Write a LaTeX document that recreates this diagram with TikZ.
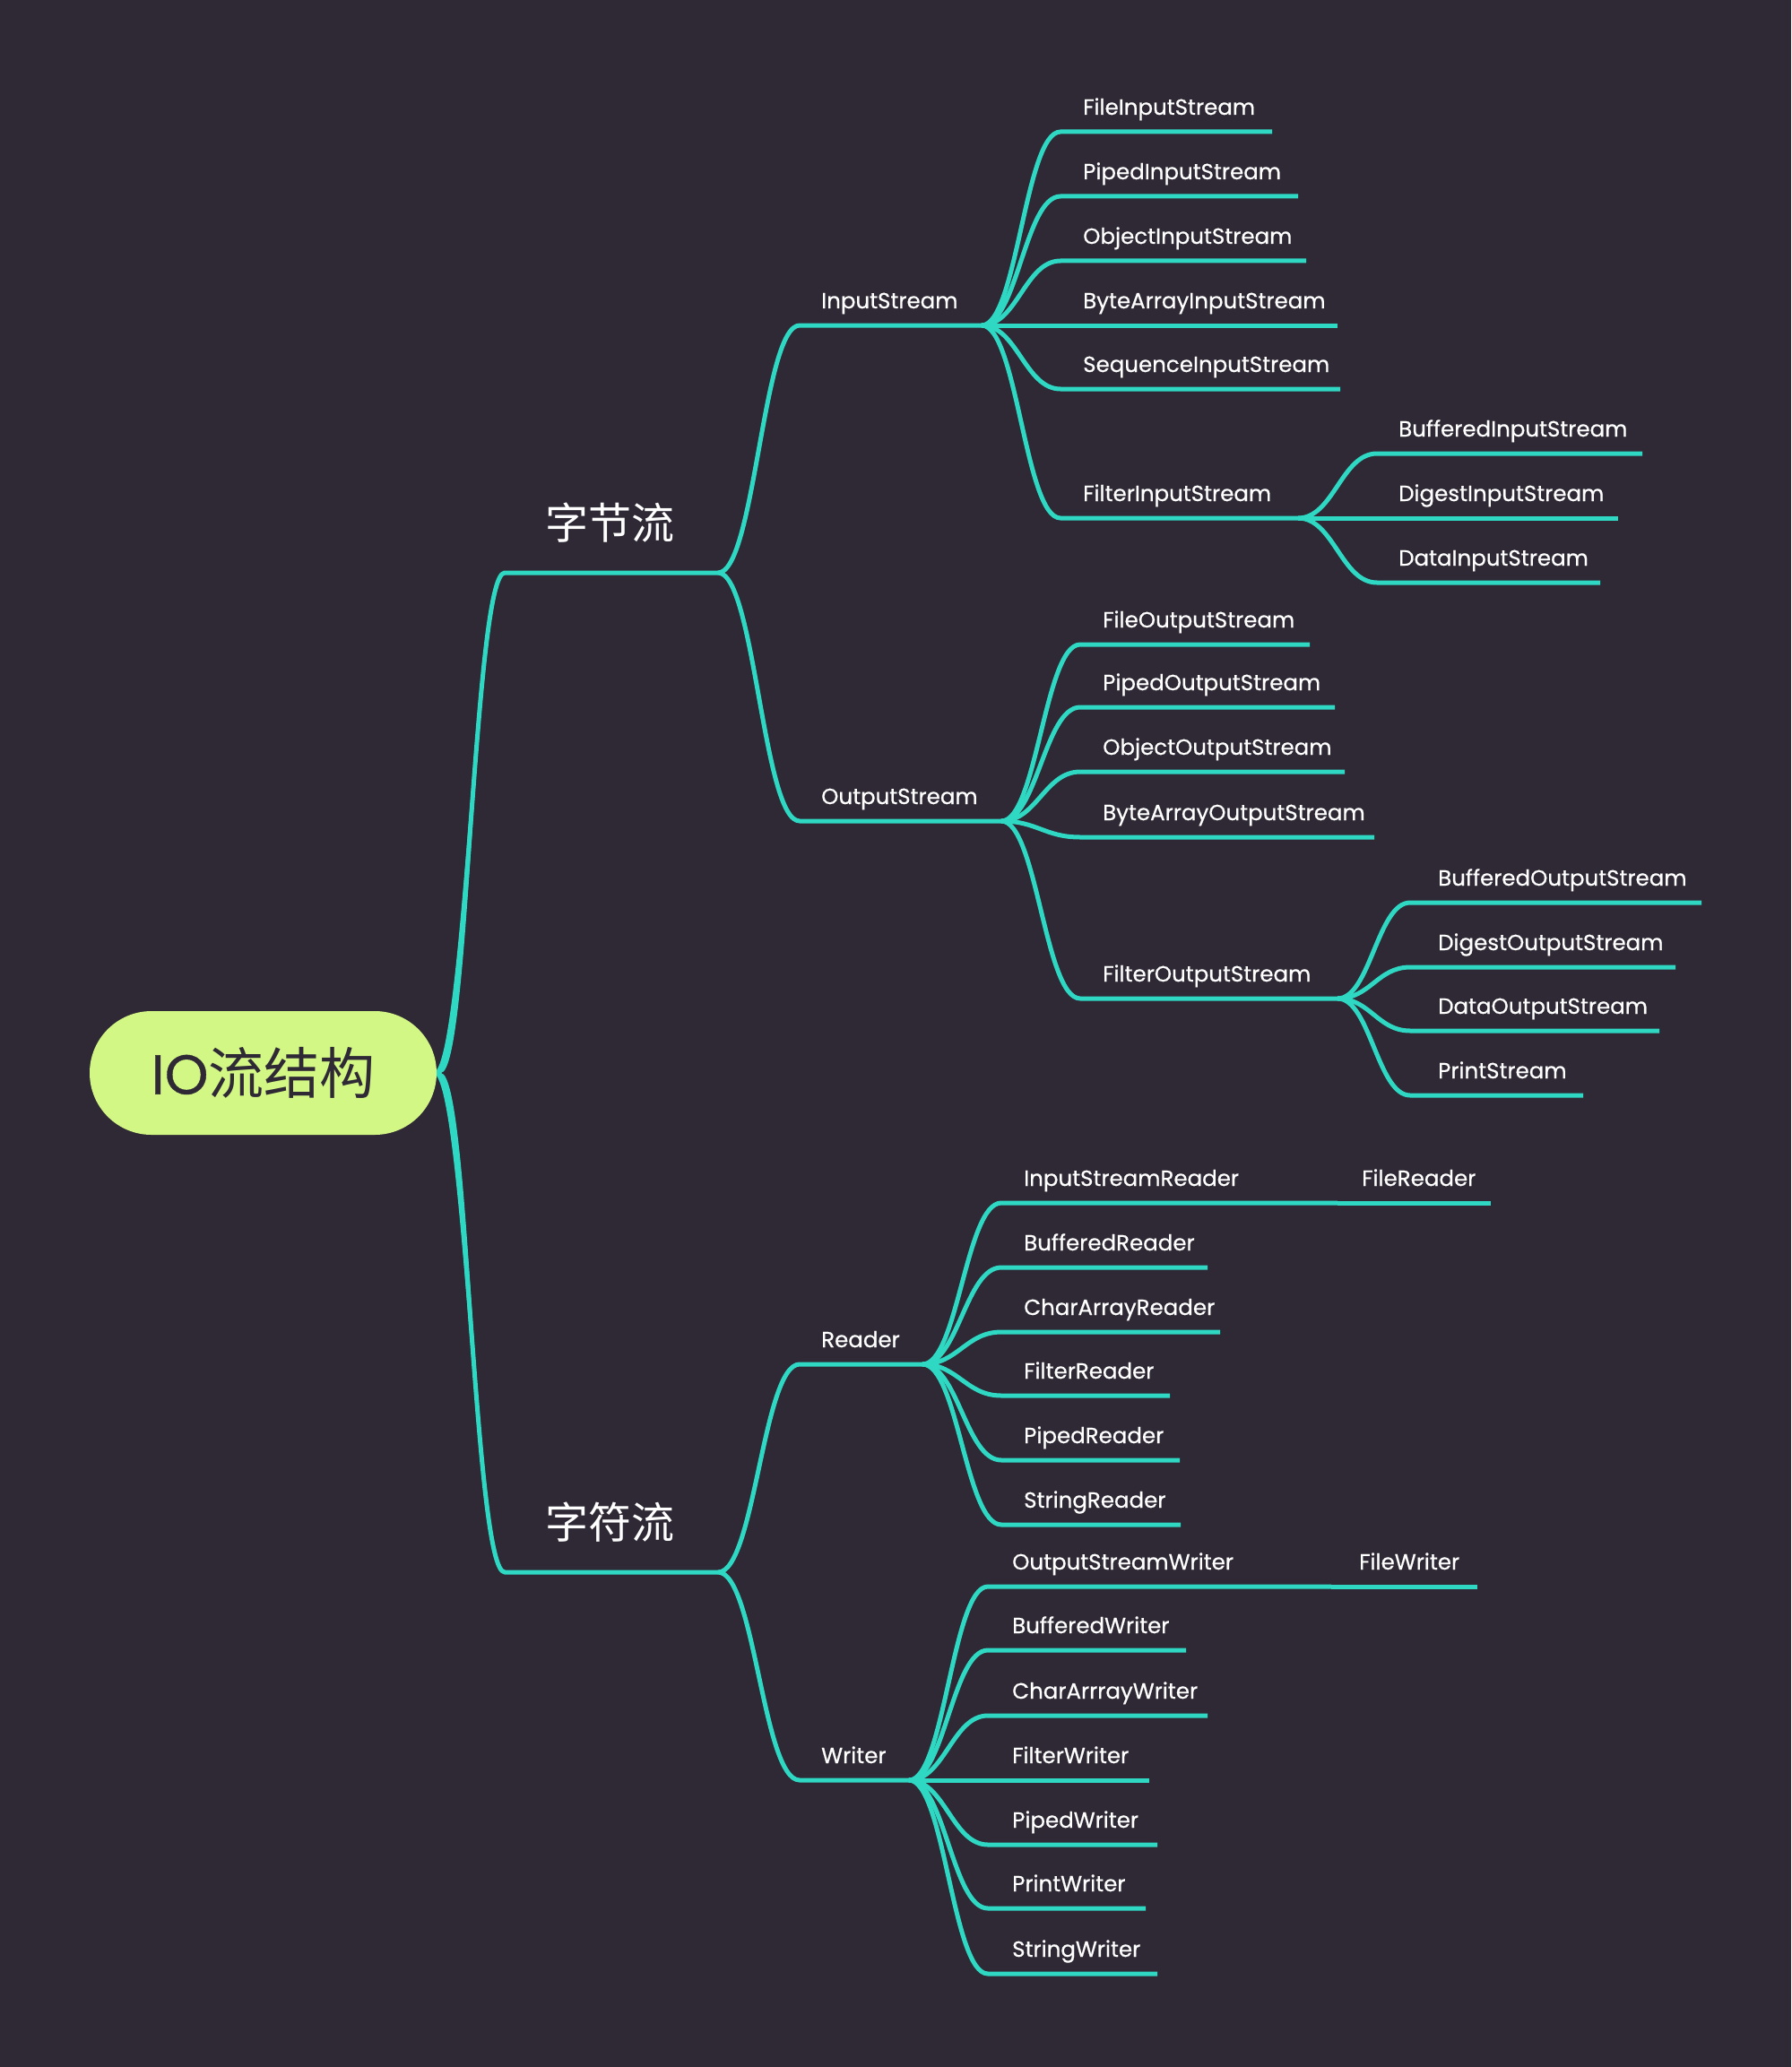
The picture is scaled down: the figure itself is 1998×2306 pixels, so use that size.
\documentclass[tikz,border=0pt]{standalone}
\usepackage{fontspec}
\setmainfont{Poppins}
\newfontfamily\labelfont{Poppins}[FakeBold=0.6]
\newfontfamily\cjk{Noto Sans CJK SC}
\usetikzlibrary{calc}
\definecolor{bg}{HTML}{2F2935}
\definecolor{branchc}{HTML}{2ED8C3}
\definecolor{rootfill}{HTML}{D3F785}
\pgfdeclarelayer{canvas}
\pgfdeclarelayer{wires}
\pgfsetlayers{canvas,wires,main}

% curved connector: parent end -> child start, then the child's underline
\newcommand\twig[4][link]{%
  \draw[#1] let \p1=(#2), \p2=(#3), \n1={0.45*(\x2-\x1)} in
    (#2) .. controls +(\n1,0) and +(-\n1,0) .. (#3) -- (#4);}
% main branch from the root: widens towards the root
\newcommand\trunkto[3]{%
  \fill[branchc] let \p1=(#1), \p2=(#2), \n1={0.45*(\x2-\x1)} in
    (\x1-4.5pt,\y1) .. controls (\x1+\n1-4.5pt,\y1) and (\x2-\n1,\y2) .. (\x2,\y2)
    .. controls (\x2-\n1,\y2) and (\x1+\n1+4.5pt,\y1) .. (\x1+4.5pt,\y1) -- cycle;
  \twig{#1}{#2}{#3}}
% a labelled entry: name, line start x, line end x, line y, label x, label
\newcommand\mmleaf[6]{%
  \coordinate (#1-s) at (#2,#4);
  \coordinate (#1-e) at (#3,#4);
  \node[leaf] (#1) at (#5,#4-19) {#6};}

\begin{document}
\begin{tikzpicture}[x=1pt,y=-1pt,
  link/.style={draw=branchc, line width=5pt, line join=round},
  leaf/.style={anchor=base west, inner sep=0pt, text=white, font=\labelfont\fontsize{24.5}{28}\selectfont},
  topic/.style={anchor=base west, inner sep=0pt, text=white, font=\cjk\fontsize{48}{54}\selectfont},
  rootbox/.style={fill=rootfill, rounded corners=69pt, minimum width=387pt, minimum height=138pt, inner sep=0pt, text=bg, font=\fontsize{62}{70}\selectfont}]

\begin{pgfonlayer}{canvas}
\fill[bg] (0,0) rectangle (1998,2306);
\end{pgfonlayer}
\useasboundingbox (0,0) rectangle (1998,2306);

% root
\node[rootbox] (root) at (293.5,1197) {{\labelfont IO}{\cjk 流结构}};

% first level
\coordinate (byte-s) at (563,639); \coordinate (byte-e) at (801,639);
\node[topic] (byte) at (608,601) {字节流};
\coordinate (char-s) at (563,1754); \coordinate (char-e) at (801,1754);
\node[topic] (char) at (608,1716) {字符流};

% second level
\mmleaf{in}{892}{1095}{363}{916}{InputStream}
\mmleaf{out}{892}{1117}{916}{916}{OutputStream}
\mmleaf{rd}{892}{1029}{1522}{916}{Reader}
\mmleaf{wr}{892}{1014}{1986}{916}{Writer}

% InputStream family
\mmleaf{fis}{1183}{1419}{147}{1208}{FileInputStream}
\mmleaf{pis}{1183}{1448}{219}{1208}{PipedInputStream}
\mmleaf{ois}{1183}{1457}{291}{1208}{ObjectInputStream}
\mmleaf{bais}{1183}{1492}{363}{1208}{ByteArrayInputStream}
\mmleaf{sis}{1183}{1495}{434}{1208}{SequenceInputStream}
\mmleaf{filis}{1183}{1448}{578}{1208}{FilterInputStream}
\mmleaf{bis}{1536}{1832}{506}{1560}{BufferedInputStream}
\mmleaf{dgis}{1536}{1805}{578}{1560}{DigestInputStream}
\mmleaf{dis}{1536}{1785}{650}{1560}{DataInputStream}

% OutputStream family
\mmleaf{fos}{1205}{1461}{719}{1230}{FileOutputStream}
\mmleaf{pos}{1205}{1489}{789}{1230}{PipedOutputStream}
\mmleaf{oos}{1205}{1500}{861}{1230}{ObjectOutputStream}
\mmleaf{baos}{1205}{1533}{934}{1230}{ByteArrayOutputStream}
\mmleaf{filos}{1205}{1492}{1114}{1230}{FilterOutputStream}
\mmleaf{bos}{1573}{1898}{1007}{1604}{BufferedOutputStream}
\mmleaf{dgos}{1573}{1869}{1079}{1604}{DigestOutputStream}
\mmleaf{dos}{1573}{1851}{1150}{1604}{DataOutputStream}
\mmleaf{ps}{1573}{1766}{1222}{1604}{PrintStream}

% Reader family
\mmleaf{isr}{1117}{1492}{1342}{1142}{InputStreamReader}
\mmleaf{flr}{1492}{1663}{1342}{1519}{FileReader}
\mmleaf{brd}{1117}{1347}{1414}{1142}{BufferedReader}
\mmleaf{card}{1117}{1361}{1486}{1142}{CharArrayReader}
\mmleaf{frd}{1117}{1305}{1557}{1142}{FilterReader}
\mmleaf{prd}{1117}{1316}{1629}{1142}{PipedReader}
\mmleaf{srd}{1117}{1317}{1701}{1142}{StringReader}

% Writer family
\mmleaf{osw}{1102}{1485}{1770}{1129}{OutputStreamWriter}
\mmleaf{flw}{1485}{1648}{1770}{1516}{FileWriter}
\mmleaf{bwr}{1102}{1323}{1841}{1129}{BufferedWriter}
\mmleaf{cwr}{1102}{1347}{1914}{1129}{CharArrrayWriter}
\mmleaf{fwr}{1102}{1282}{1986}{1129}{FilterWriter}
\mmleaf{pwr}{1102}{1291}{2058}{1129}{PipedWriter}
\mmleaf{prw}{1102}{1278}{2129}{1129}{PrintWriter}
\mmleaf{swr}{1102}{1291}{2202}{1129}{StringWriter}

% connectors
\begin{pgfonlayer}{wires}
\trunkto{root.east}{byte-s}{byte-e}
\trunkto{root.east}{char-s}{char-e}
\twig{byte-e}{in-s}{in-e}
\twig{byte-e}{out-s}{out-e}
\twig{char-e}{rd-s}{rd-e}
\twig{char-e}{wr-s}{wr-e}
\foreach \c in {fis,pis,ois,bais,sis,filis} {\twig{in-e}{\c-s}{\c-e}}
\foreach \c in {bis,dgis,dis} {\twig{filis-e}{\c-s}{\c-e}}
\foreach \c in {fos,pos,oos,baos,filos} {\twig{out-e}{\c-s}{\c-e}}
\foreach \c in {bos,dgos,dos,ps} {\twig{filos-e}{\c-s}{\c-e}}
\foreach \c in {isr,brd,card,frd,prd,srd} {\twig{rd-e}{\c-s}{\c-e}}
\twig{isr-e}{flr-s}{flr-e}
\foreach \c in {osw,bwr,cwr,fwr,pwr,prw,swr} {\twig{wr-e}{\c-s}{\c-e}}
\twig{osw-e}{flw-s}{flw-e}
\end{pgfonlayer}
\end{tikzpicture}
\end{document}
